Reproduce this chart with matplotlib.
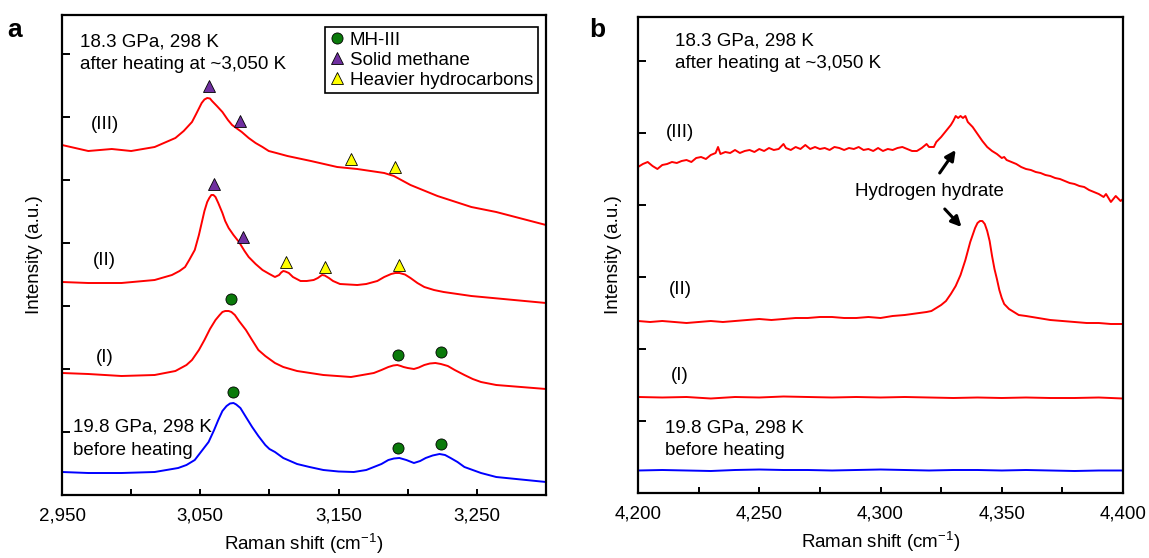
import matplotlib
matplotlib.use("Agg")
import matplotlib.pyplot as plt
from matplotlib.lines import Line2D

plt.rcParams['font.family'] = ['Liberation Sans', 'DejaVu Sans']
plt.rcParams['mathtext.default'] = 'regular'
plt.rcParams['font.size'] = 13.5

# ---- panel a data (Raman shift, intensity a.u.) ----
a_x3 = [2950, 2969, 2986, 3000, 3017, 3032, 3038, 3044, 3047, 3051, 3053, 3055, 3057, 3058.5,
        3062, 3066, 3070, 3073, 3076, 3080, 3085, 3090, 3095, 3099.5, 3105, 3113, 3130, 3149,
        3163.5, 3183, 3190, 3202, 3221.5, 3246, 3264, 3300]
a_y3 = [350, 344, 346, 344, 348, 357, 364, 373, 381, 392, 395.5, 397, 396.5, 394,
        389, 383, 375, 370, 367, 363, 357, 352, 348, 344, 342, 339, 334, 328,
        326, 322, 319, 310, 299, 288, 283, 270]

a_x2 = [2950, 2969, 2993, 3017, 3029.5, 3035, 3039, 3042, 3046, 3049, 3051, 3053, 3055, 3056.5,
        3058, 3059.5, 3061, 3063, 3066, 3068, 3070.5, 3074, 3078, 3082, 3085, 3090, 3095, 3100,
        3104, 3107, 3108.5, 3110, 3111.5, 3114, 3117, 3122.5, 3127, 3132, 3135, 3138, 3140,
        3143, 3146, 3151, 3163.5, 3170, 3178, 3183, 3188, 3191, 3194, 3198, 3202, 3207, 3212,
        3219, 3226, 3246, 3300]
a_y2 = [213, 212, 212, 215, 220, 224, 228, 235, 245, 260, 272, 284, 293, 297,
        300, 300, 298, 292, 282, 274, 267, 260, 253, 244, 238, 231, 225, 221,
        218, 220, 222.5, 224, 223.5, 222, 218, 214, 214, 215, 217, 220, 219.5,
        217, 214, 211, 210, 211, 214, 218, 221, 222, 222, 220.5, 217, 212, 208,
        205, 203, 199, 192]

a_x1 = [2950, 2969, 2993, 3017, 3032, 3040, 3044, 3049, 3053, 3057, 3061, 3064, 3066, 3068,
        3070.5, 3072.5, 3075, 3078, 3083, 3087, 3092, 3097, 3104, 3110, 3120, 3139, 3159,
        3175.5, 3181, 3186, 3189.5, 3192.5, 3195, 3197, 3200, 3204.5, 3208, 3212, 3216, 3220,
        3224, 3229, 3234, 3241, 3247, 3253, 3264, 3300]
a_y1 = [122, 121, 119, 120, 124, 130, 135, 145, 155, 166, 175, 180, 183, 184,
        184, 183, 180, 174, 165, 156, 145, 139, 132, 128, 124, 120, 118,
        122, 125, 128, 129.5, 130, 129, 128, 127, 126, 127.5, 130, 131.5, 132,
        131, 129, 125, 120, 116, 113, 110, 106]

a_x0 = [2950, 2969, 2993, 3017, 3034, 3040, 3046, 3051, 3056, 3060, 3063, 3066, 3069, 3071.5,
        3074, 3076, 3079, 3083, 3087.5, 3092, 3097, 3100, 3104, 3110, 3120, 3129, 3139, 3150,
        3161, 3170, 3175.5, 3181, 3186, 3190, 3194, 3199, 3204.5, 3209, 3213, 3218, 3223,
        3227, 3231, 3236, 3241, 3247, 3253, 3264, 3300]
a_y0 = [23, 22, 22, 23, 27, 30, 35, 44, 53, 65, 75, 84, 89, 91.5,
        92, 90.5, 87, 78, 68, 59, 50, 46, 43, 37, 31, 28, 25, 23.5,
        23, 25, 28, 31, 35, 36.5, 37, 35, 32, 34, 37, 39.5, 41,
        40, 37, 33, 28, 25, 22, 18, 13]

# peak markers
mh_x = [3072.5, 3193, 3224, 3074, 3193, 3224]
mh_y = [196, 140, 143, 103, 47, 51]
ch4_x = [3056.5, 3079, 3060, 3081]
ch4_y = [409, 374, 311, 258]
hc_x = [3159, 3191, 3112, 3140, 3194]
hc_y = [336, 328, 233, 228, 230]

a_xticks = [2950, 3050, 3150, 3250]
a_xlabels = ['2,950', '3,050', '3,150', '3,250']

# ---- panel b data ----
b_x3 = [4200, 4202, 4204, 4206, 4208, 4210, 4212, 4214, 4216, 4218, 4220, 4222, 4224, 4226,
        4228, 4230, 4232, 4233, 4234, 4236, 4238, 4240, 4242, 4244, 4246, 4248, 4250, 4252,
        4254, 4256, 4258, 4260, 4261, 4263, 4265, 4267, 4269, 4271, 4273, 4275, 4277, 4279,
        4281, 4283, 4285, 4287, 4289, 4291, 4293, 4295, 4297, 4299, 4301, 4303, 4305, 4307,
        4309, 4311, 4313, 4315, 4317, 4319, 4320, 4322, 4323, 4325, 4327, 4329, 4330, 4331,
        4332, 4333, 4334, 4335, 4336, 4338, 4340, 4342, 4344, 4346, 4348, 4350, 4351, 4352,
        4354, 4356, 4358, 4360, 4362, 4364, 4366, 4368, 4370, 4372, 4374, 4376, 4378, 4380,
        4382, 4384, 4386, 4388, 4390, 4392, 4393, 4395, 4397, 4399, 4400]
b_y3 = [326, 329, 331, 327, 324, 328, 329, 331, 330, 332, 333, 331, 335, 336,
        334, 338, 340, 346, 339, 341, 340, 343, 340, 342, 343, 341, 344, 342,
        345, 343, 344, 349, 345, 343, 346, 344, 348, 344, 346, 344, 345, 343,
        346, 345, 343, 345, 344, 346, 343, 344, 342, 345, 342, 344, 343, 345,
        346, 344, 342, 342, 345, 349, 346, 346, 351, 356, 362, 368, 372, 377,
        375, 377, 375, 377, 371, 366, 359, 352, 346, 342, 339, 335, 336, 333,
        331, 329, 326, 324, 323, 321, 320, 318, 317, 315, 314, 312, 310, 309,
        307, 306, 303, 301, 299, 296, 299, 291, 297, 292, 294]

b_x2 = [4200, 4205, 4210, 4215, 4220, 4225, 4230, 4235, 4240, 4245, 4250, 4255, 4260, 4265,
        4270, 4275, 4280, 4285, 4290, 4295, 4300, 4305, 4310, 4313, 4316, 4319, 4321, 4323,
        4325, 4327, 4329, 4331, 4333, 4335, 4337, 4339, 4340, 4341, 4342, 4343, 4344, 4345,
        4346, 4347, 4348, 4349, 4350, 4351, 4353, 4355, 4357, 4360, 4365, 4370, 4375, 4380,
        4385, 4390, 4395, 4400]
b_y2 = [172, 171, 172, 171, 170, 171, 172, 171, 172, 173, 174, 173, 174, 175,
        175, 176, 176, 175, 175, 176, 175, 177, 178, 179, 180, 181, 182, 185,
        188, 192, 199, 207, 218, 233, 251, 265, 270, 272, 272, 269, 262, 252,
        237, 224, 214, 203, 195, 189, 184, 181, 178, 177, 175, 173, 172, 171,
        170, 170, 169, 169]

b_x1 = [4200, 4210, 4220, 4230, 4240, 4250, 4260, 4270, 4280, 4290, 4300, 4310, 4320, 4330,
        4340, 4350, 4360, 4370, 4380, 4390, 4400]
b_y1 = [96, 95.5, 96, 94.5, 96, 95.5, 96.5, 96, 95.5, 96, 95.5, 96, 95.5, 95,
        95.5, 95, 95.5, 95, 95, 95.5, 94.5]
b_x0 = b_x1
b_y0 = [22.5, 23, 22.5, 22, 23, 23.5, 23, 23, 22.5, 23, 23.5, 23, 22.5, 23,
        23, 22.5, 23, 22.5, 22, 22.5, 22.5]

b_xticks = [4200, 4250, 4300, 4350, 4400]
b_xlabels = ['4,200', '4,250', '4,300', '4,350', '4,400']

RED = '#ff0000'
BLUE = '#0000ff'
GREEN = '#0b7a0b'
PURPLE = '#7030a0'
YELLOW = '#ffff00'
lw = 1.4

fig = plt.figure(figsize=(11.49, 5.58), dpi=100)
axa = fig.add_axes([0.05396, 0.1129, 0.42124, 0.86022])
axb = fig.add_axes([0.55527, 0.11649, 0.42211, 0.85305])

# panel a
for xs, ys, c in ((a_x3, a_y3, RED), (a_x2, a_y2, RED), (a_x1, a_y1, RED), (a_x0, a_y0, BLUE)):
    axa.plot(xs, ys, color=c, lw=lw, solid_joinstyle='round')
axa.plot(mh_x, mh_y, 'o', ms=8, mfc=GREEN, mec='black', mew=0.6, ls='none')
axa.plot(ch4_x, ch4_y, '^', ms=8.5, mfc=PURPLE, mec='black', mew=0.6, ls='none')
axa.plot(hc_x, hc_y, '^', ms=8.5, mfc=YELLOW, mec='black', mew=0.6, ls='none')

axa.set_xlim(2950, 3300)
axa.set_ylim(0, 480)
axa.set_xticks(a_xticks)
axa.set_xticklabels(a_xlabels)
axa.set_xticks([3000, 3100, 3200, 3300], minor=True)
axa.set_yticks([63, 126, 189, 252, 315, 378, 441])
axa.set_yticklabels([])

axa.text(2981, 370, '(III)', ha='center', va='center')
axa.text(2981, 235, '(II)', ha='center', va='center')
axa.text(2981, 138, '(I)', ha='center', va='center')
axa.text(0.037, 0.944, '18.3 GPa, 298 K', transform=axa.transAxes, va='center')
axa.text(0.037, 0.896, 'after heating at ~3,050 K', transform=axa.transAxes, va='center')
axa.text(0.023, 0.142, '19.8 GPa, 298 K', transform=axa.transAxes, va='center')
axa.text(0.023, 0.092, 'before heating', transform=axa.transAxes, va='center')

handles = [
    Line2D([], [], marker='o', ls='none', ms=8, mfc=GREEN, mec='black', mew=0.6),
    Line2D([], [], marker='^', ls='none', ms=8.5, mfc=PURPLE, mec='black', mew=0.6),
    Line2D([], [], marker='^', ls='none', ms=8.5, mfc=YELLOW, mec='black', mew=0.6),
]
leg = axa.legend(handles, ['MH-III', 'Solid methane', 'Heavier hydrocarbons'],
                 loc='upper right', bbox_to_anchor=(0.983, 0.975), borderaxespad=0,
                 fancybox=False, framealpha=1, edgecolor='black', handlelength=0.8,
                 handletextpad=0.3, borderpad=0.25, labelspacing=0.15, fontsize=13.5)
leg.get_frame().set_linewidth(1.2)

# panel b
for xs, ys, c in ((b_x3, b_y3, RED), (b_x2, b_y2, RED), (b_x1, b_y1, RED), (b_x0, b_y0, BLUE)):
    axb.plot(xs, ys, color=c, lw=lw, solid_joinstyle='round')

axb.set_xlim(4200, 4400)
axb.set_ylim(0, 476)
axb.set_xticks(b_xticks)
axb.set_xticklabels(b_xlabels)
axb.set_xticks([4225, 4275, 4325, 4375], minor=True)
axb.set_yticks([72, 144, 216, 288, 360, 432])
axb.set_yticklabels([])

axb.text(4217.3, 360, '(III)', ha='center', va='center')
axb.text(4217.3, 203, '(II)', ha='center', va='center')
axb.text(4217.3, 117, '(I)', ha='center', va='center')
axb.text(0.076, 0.95, '18.3 GPa, 298 K', transform=axb.transAxes, va='center')
axb.text(0.076, 0.903, 'after heating at ~3,050 K', transform=axb.transAxes, va='center')
axb.text(0.056, 0.137, '19.8 GPa, 298 K', transform=axb.transAxes, va='center')
axb.text(0.056, 0.090, 'before heating', transform=axb.transAxes, va='center')
axb.text(4320, 301, 'Hydrogen hydrate', ha='center', va='center')
arrow = dict(arrowstyle='-|>', lw=2.2, color='black', mutation_scale=15, shrinkA=0, shrinkB=0)
axb.annotate('', xy=(4331, 343), xytext=(4324.4, 320), arrowprops=arrow)
axb.annotate('', xy=(4333.4, 266), xytext=(4326.5, 284), arrowprops=arrow)

for ax, pad in ((axa, 10), (axb, 8)):
    for s in ax.spines.values():
        s.set_linewidth(1.6)
    ax.tick_params(axis='x', which='both', direction='in', length=4, width=1.4,
                   top=False, pad=9)
    ax.tick_params(axis='y', which='both', direction='in', length=6, width=1.4,
                   right=False)
    ax.set_ylabel('Intensity (a.u.)', labelpad=pad)
    ax.set_xlabel('Raman shift (cm$^{-1}$)', labelpad=5)

fig.text(15 / 1149, 1 - 30 / 558, 'a', fontsize=19, fontweight='bold', ha='center', va='center')
fig.text(597 / 1149, 1 - 30 / 558, 'b', fontsize=19, fontweight='bold', ha='center', va='center')

fig.savefig('out.png', dpi=100)
